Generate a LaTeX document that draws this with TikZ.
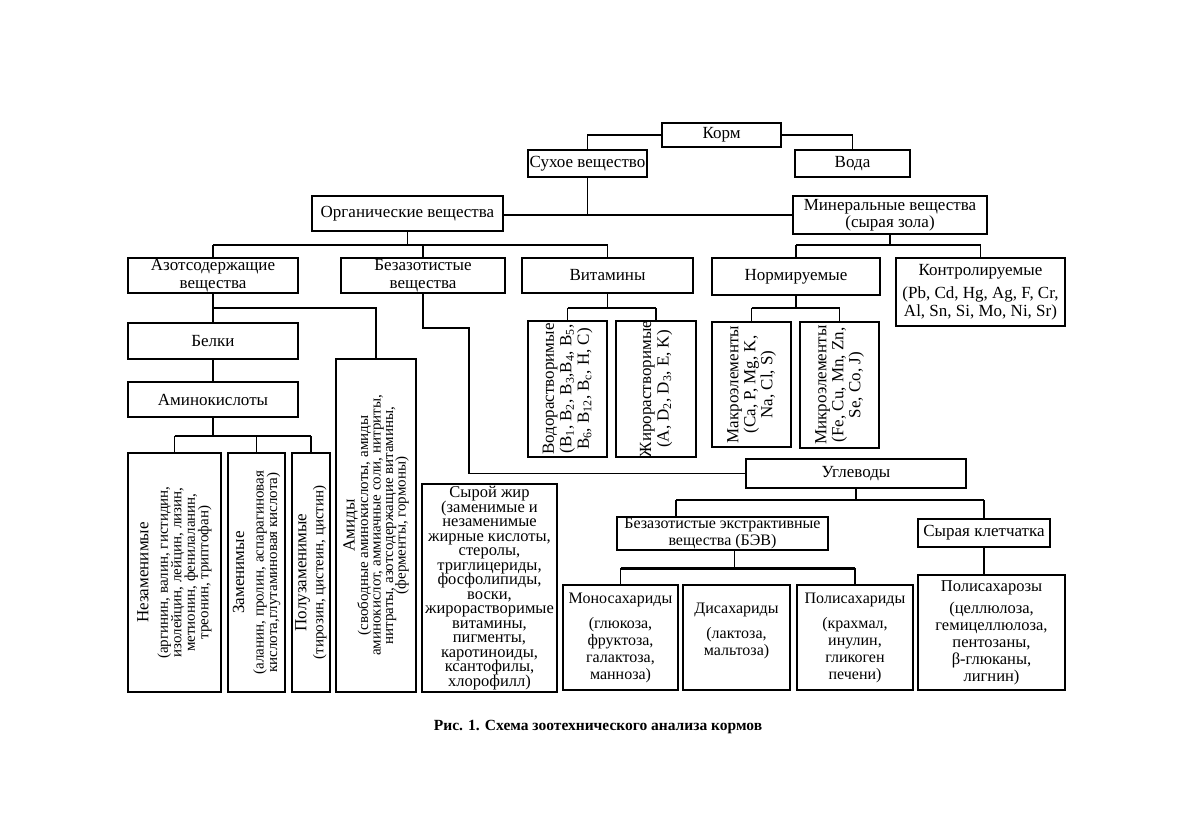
\documentclass[tikz,border=0pt]{standalone}
\usepackage{fontspec}
\setmainfont{Liberation Serif}
\usetikzlibrary{calc}
\newcommand\tx[3]{\vbox{\fontsize{#1}{#2}\selectfont\lineskiplimit=-100pt\lineskip=0pt\let\\\cr\halign{\hfil##\hfil\cr#3\crcr}}}
\newcommand\hd[1]{{\fontsize{17}{17}\selectfont #1}}
\newcommand\gp[1]{\noalign{\vskip#1}}
\tikzset{
  bx/.style={draw, line width=1.3pt, inner sep=0pt, outer sep=0pt, rectangle},
  bxk/.style={bx, line width=2pt},
  ln/.style={line width=1.8pt},
  lnthin/.style={line width=1pt},
  lnthick/.style={line width=3pt},
}
\begin{document}
\begin{tikzpicture}[x=1pt,y=-1pt]
\fill[white] (0,0) rectangle (1200,815);
\useasboundingbox (0,0) rectangle (1200,815);

% row 1-2
\node[bx, minimum width=119pt, minimum height=24pt] (korm) at (721.5,135) {\tx{17}{17}{Корм}};
\node[bx, minimum width=119pt, minimum height=27pt] (suhoe) at (587.5,163.5) {\tx{17}{17}{Сухое вещество}};
\node[bx, minimum width=115pt, minimum height=27pt] (voda) at (852.5,163.5) {\tx{17}{17}{Вода}};
\node[bx, minimum width=191pt, minimum height=35pt] (org) at (407.5,213.5) {\tx{17}{17}{Органические вещества}};
\node[bx, minimum width=194pt, minimum height=38pt] (min) at (890,215) {\tx{17}{17}{Минеральные вещества\\(сырая зола)}};

% row 3
\node[bx, minimum width=170pt, minimum height=35pt] (azot) at (213,275.5) {\tx{17}{17.5}{Азотсодержащие\\вещества}};
\node[bx, minimum width=164pt, minimum height=35pt] (bezaz) at (423,275.5) {\tx{17}{17.5}{Безазотистые\\вещества}};
\node[bx, minimum width=171pt, minimum height=35pt] (vit) at (607.5,275.5) {\tx{17}{17}{Витамины}};
\node[bx, minimum width=168pt, minimum height=37pt] (norm) at (796,276.5) {\tx{17}{17}{Нормируемые}};
\node[bx, minimum width=169pt, minimum height=68pt] (kontr) at (980.5,292) {\tx{17}{18}{Контролируемые\\\gp{5pt}(Pb, Cd, Hg, Ag, F, Cr,\\Al, Sn, Si, Mo, Ni, Sr)}};

% left column
\node[bx, minimum width=170pt, minimum height=36pt] (belki) at (213,341) {\tx{17}{17}{Белки}};
\node[bx, minimum width=170pt, minimum height=35pt] (amino) at (213,399.5) {\tx{17}{17}{Аминокислоты}};
\node[bxk, rotate=90, minimum width=239pt, minimum height=93pt] (nezam) at (174.5,572.5) {\tx{15}{13.5}{\hd{Незаменимые}\\\gp{6pt}(аргинин, валин, гистидин,\\изолейцин, лейцин, лизин,\\метионин, фенилаланин,\\треонин, триптофан)}};
\node[bx, rotate=90, minimum width=239pt, minimum height=57pt] (zam) at (256.5,572.5) {\tx{15}{13.5}{\hd{Заменимые}\\\gp{6pt}(аланин, пролин, аспарагиновая\\кислота,глутаминовая кислота)}};
\node[bx, rotate=90, minimum width=239pt, minimum height=38pt] (poluz) at (311,572.5) {\tx{15}{13}{\hd{Полузаменимые}\\\gp{4pt}(тирозин, цистеин, цистин)}};
\node[bx, rotate=90, minimum width=333pt, minimum height=80pt] (amidy) at (376,525.5) {\tx{15}{12.5}{\hd{Амиды}\\\gp{1pt}(свободные аминокислоты, амиды\\аминокислот, аммиачные соли, нитриты,\\нитраты, азотсодержащие витамины,\\(ферменты, гормоны)}};
\node[bx, minimum width=135pt, minimum height=208pt] (zhir) at (489.5,588) {\tx{16.5}{14.5}{Сырой жир\\(заменимые и\\незаменимые\\жирные кислоты,\\стеролы,\\триглицериды,\\фосфолипиды,\\воски,\\жирорастворимые\\витамины,\\пигменты,\\каротиноиды,\\ксантофилы,\\хлорофилл)}};

% vitamins & minerals
\node[bxk, rotate=90, minimum width=136pt, minimum height=79pt] (vodor) at (567.5,389) {\tx{17}{17.5}{Водорастворимые\\(B\textsubscript{1}, B\textsubscript{2}, B\textsubscript{3},B\textsubscript{4}, B\textsubscript{5},\\B\textsubscript{6}, B\textsubscript{12}, B\textsubscript{c}, H, C)}};
\node[bx, rotate=90, minimum width=136pt, minimum height=80pt] (zhirr) at (656,389) {\tx{17}{17.5}{Жирорастворимые\\(A, D\textsubscript{2}, D\textsubscript{3}, E, K)}};
\node[bx, rotate=90, minimum width=125pt, minimum height=79pt] (makro) at (751.5,384.5) {\tx{17}{17}{Макроэлементы\\(Ca, P, Mg, K,\\Na, Cl, S)}};
\node[bxk, rotate=90, minimum width=126pt, minimum height=79pt] (mikro) at (839.5,385) {\tx{17}{17}{Микроэлементы\\(Fe, Cu, Mn, Zn,\\Se, Co, J)}};

% carbohydrates
\node[bx, minimum width=220pt, minimum height=29pt] (ugl) at (856,473.5) {\tx{17}{17}{Углеводы}};
\node[bx, minimum width=211pt, minimum height=33pt] (bev) at (722.5,533.5) {\tx{16}{16.5}{Безазотистые экстрактивные\\вещества (БЭВ)}};
\node[bx, minimum width=132pt, minimum height=28pt] (kletch) at (984,533) {\tx{17}{17}{Сырая клетчатка}};
\node[bx, minimum width=115pt, minimum height=105pt] (mono) at (620.5,637.5) {\tx{16}{17}{Моносахариды\\\gp{8pt}(глюкоза,\\фруктоза,\\галактоза,\\манноза)}};
\node[bx, minimum width=107pt, minimum height=105pt] (disah) at (736.5,637.5) {\tx{16}{17}{Дисахариды\\\gp{8pt}(лактоза,\\мальтоза)\\\\}};
\node[bx, minimum width=116pt, minimum height=105pt] (polisah) at (855,637.5) {\tx{16}{17}{Полисахариды\\\gp{8pt}(крахмал,\\инулин,\\гликоген\\печени)}};
\node[bx, minimum width=147pt, minimum height=115pt] (polisaroz) at (991.5,632.5) {\tx{16.5}{17}{Полисахарозы\\\gp{5pt}(целлюлоза,\\гемицеллюлоза,\\пентозаны,\\β-глюканы,\\лигнин)}};

\node[inner sep=0pt, font=\fontsize{15.5}{15.5}\selectfont\bfseries] (cap) at (598,727) {Рис. 1. Схема зоотехнического анализа кормов};

% bus coordinates
\coordinate (b1) at (0,215);
\coordinate (b2) at (0,245);
\coordinate (b3) at (0,308);
\coordinate (b4) at (0,436);
\coordinate (k1) at (469,328);
\coordinate (k2) at (676,500);
\coordinate (k3) at (734,568);

% connectors
\draw[ln] (korm.west) -| (suhoe.north);
\draw[ln] (korm.east) -| (voda.north);
\draw[ln] (suhoe.south) -- (suhoe.south |- b1);
\draw[ln] (org.east |- b1) -- (min.west |- b1);

\draw[ln] (org.south) -- (org.south |- b2);
\draw[ln] (azot.north |- b2) -- (vit.north |- b2);
\draw[ln] (azot.north |- b2) -- (azot.north);
\draw[ln] (bezaz.north |- b2) -- (bezaz.north);
\draw[ln] (vit.north |- b2) -- (vit.north);

\draw[ln] (min.south) -- (min.south |- b2);
\draw[ln] (norm.north |- b2) -- (kontr.north |- b2);
\draw[ln] (norm.north |- b2) -- (norm.north);
\draw[ln] (kontr.north |- b2) -- (kontr.north);

\draw[ln] (azot.south) -- (belki.north);
\draw[ln] (azot.south |- b3) -| (amidy.east);
\draw[ln] (belki.south) -- (amino.north);
\draw[ln] (amino.south) -- (amino.south |- b4);
\draw[ln] (nezam.east |- b4) -- (poluz.east |- b4);
\draw[ln] (nezam.east |- b4) -- (nezam.east);
\draw[ln] (zam.east |- b4) -- (zam.east);
\draw[ln] (poluz.east |- b4) -- (poluz.east);

\draw[ln] (bezaz.south) |- (k1) |- (ugl.west);

\draw[ln] (vit.south) -- (vit.south |- b3);
\draw[ln] (vodor.east |- b3) -- (zhirr.east |- b3);
\draw[ln] (vodor.east |- b3) -- (vodor.east);
\draw[ln] (zhirr.east |- b3) -- (zhirr.east);

\draw[ln] (norm.south) -- (norm.south |- b3);
\draw[ln] (makro.east |- b3) -- (mikro.east |- b3);
\draw[ln] (makro.east |- b3) -- (makro.east);
\draw[ln] (mikro.east |- b3) -- (mikro.east);

\draw[ln] (ugl.south) -- (ugl.south |- k2);
\draw[ln] (k2) -- (k2 -| kletch.north);
\draw[ln] (k2) -- (k2 |- bev.north);
\draw[ln] (k2 -| kletch.north) -- (kletch.north);
\draw[ln] (kletch.south) -- (kletch.south |- polisaroz.north);

\draw[lnthin] (k3 |- bev.south) -- (k3);
\draw[lnthick] (mono.north |- k3) -- (polisah.north |- k3);
\draw[ln] (mono.north |- k3) -- (mono.north);
\draw[ln] (polisah.north |- k3) -- (polisah.north);
\end{tikzpicture}
\end{document}
